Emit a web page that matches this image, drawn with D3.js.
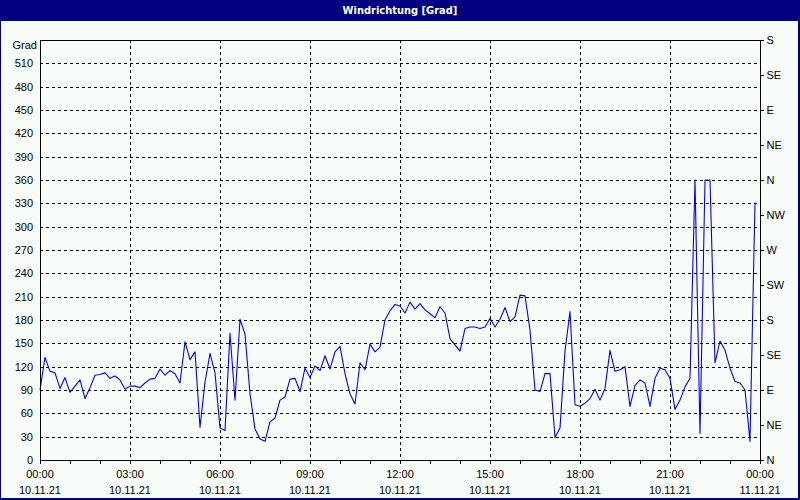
<!DOCTYPE html>
<html>
<head>
<meta charset="utf-8">
<script src="https://cdn.jsdelivr.net/npm/d3@7"></script>
<style>
  html, body { margin: 0; padding: 0; background: #fff; }
  svg { display: block; }
  text { font-family: "Liberation Sans", Arial, sans-serif; }
</style>
</head>
<body>
<svg id="chart" width="800" height="500"></svg>
<script>
// ---------- data ----------
const chartTitle = "Windrichtung [Grad]";
const unitLabel = "Grad";
const startTime = "2021-11-10T00:00:00";
const endTime = "2021-11-11T00:00:00";
const sampleMinutes = 10;
// wind direction in degrees, one value every 10 minutes from 00:00 to 23:50
const windDir = [
  90, 132, 114, 112, 92, 106, 87, 95, 103, 79, 93, 109,
  110, 112, 105, 108, 103, 91, 95, 95, 93, 99, 104, 105,
  117, 109, 115, 111, 99, 152, 129, 139, 42, 100, 137, 112,
  41, 38, 163, 77, 181, 162, 85, 40, 27, 24, 49, 54,
  77, 81, 104, 105, 88, 118, 106, 121, 115, 134, 117, 139,
  146, 111, 85, 72, 125, 116, 149, 139, 145, 180, 192, 200,
  198, 189, 203, 194, 201, 193, 188, 183, 197, 189, 156, 148,
  140, 169, 171, 171, 169, 171, 182, 171, 181, 196, 178, 184,
  212, 211, 167, 90, 88, 111, 111, 29, 41, 140, 191, 71,
  69, 73, 79, 91, 77, 92, 141, 114, 116, 120, 69, 96,
  103, 99, 69, 105, 118, 116, 105, 65, 77, 94, 105, 360,
  34, 360, 360, 125, 153, 141, 118, 101, 99, 90, 24, 331
];
const leftTicks = [0, 30, 60, 90, 120, 150, 180, 210, 240, 270, 300, 330, 360, 390, 420, 450, 480, 510];
const compassTicks = [0, 45, 90, 135, 180, 225, 270, 315, 360, 405, 450, 495, 540];
const compassLabels = ["N", "NE", "E", "SE", "S", "SW", "W", "NW", "N", "NE", "E", "SE", "S"];
const timeLabels = ["00:00", "03:00", "06:00", "09:00", "12:00", "15:00", "18:00", "21:00", "00:00"];
const dateLabels = ["10.11.21", "10.11.21", "10.11.21", "10.11.21", "10.11.21", "10.11.21", "10.11.21", "10.11.21", "11.11.21"];

// ---------- layout ----------
const W = 800, H = 500;
const plot = { left: 40, right: 760, top: 40, bottom: 460 };
const navy = "#000080";

const svg = d3.select("#chart");

// window frame
svg.append("rect").attr("x", 0).attr("y", 0).attr("width", W).attr("height", H).attr("fill", navy);
svg.append("rect").attr("x", 1).attr("y", 21).attr("width", W - 3).attr("height", H - 23).attr("fill", "#F8FCF8");
svg.append("text")
  .attr("x", W / 2).attr("y", 14)
  .attr("text-anchor", "middle")
  .attr("fill", "#fff")
  .attr("font-size", "11px")
  .attr("font-weight", "bold")
  .style("font-family", "'DejaVu Sans Condensed', 'Liberation Sans Narrow', 'Liberation Sans', sans-serif")
  .text(chartTitle);

const t0 = new Date(startTime), t1 = new Date(endTime);
const x = d3.scaleTime().domain([t0, t1]).range([plot.left, plot.right]);
const y = d3.scaleLinear().domain([0, 540]).range([plot.bottom, plot.top]);

const data = windDir.map((v, i) => ({ t: new Date(t0.getTime() + i * sampleMinutes * 60000), v }));

// grid
const grid = svg.append("g").attr("stroke", "#000").attr("stroke-width", 1)
  .attr("stroke-dasharray", "3,3").attr("shape-rendering", "crispEdges");
grid.selectAll("line.h").data(leftTicks.filter(d => d > 0)).join("line")
  .attr("x1", plot.left).attr("x2", plot.right)
  .attr("y1", d => Math.round(y(d)) + 0.5).attr("y2", d => Math.round(y(d)) + 0.5);
const gridTimes = d3.range(1, 8).map(k => new Date(t0.getTime() + k * 3 * 3600000));
grid.selectAll("line.v").data(gridTimes).join("line")
  .attr("y1", plot.top).attr("y2", plot.bottom)
  .attr("x1", d => Math.round(x(d)) + 0.5).attr("x2", d => Math.round(x(d)) + 0.5);

// data line
const line = d3.line().x(d => x(d.t)).y(d => y(d.v));
svg.append("path").datum(data)
  .attr("d", line)
  .attr("fill", "none")
  .attr("stroke", "#0000FF")
  .attr("stroke-width", 1.1)
  .attr("stroke-linejoin", "round");

// plot frame
svg.append("rect")
  .attr("x", plot.left + 0.5).attr("y", plot.top + 0.5)
  .attr("width", plot.right - plot.left).attr("height", plot.bottom - plot.top)
  .attr("fill", "none").attr("stroke", "#000").attr("shape-rendering", "crispEdges");

// left axis
const yAxis = d3.axisLeft(y).tickValues(leftTicks).tickSize(0).tickPadding(7).tickFormat(d3.format("d"));
const gy = svg.append("g").attr("transform", `translate(${plot.left},0)`).call(yAxis);
gy.select(".domain").remove();
gy.selectAll("text").attr("font-size", "11px").attr("fill", "#000").style("font-family", "'Liberation Sans', Arial, sans-serif");

svg.append("text").attr("x", 37).attr("y", 49).attr("text-anchor", "end")
  .attr("font-size", "11px").attr("fill", "#000").text(unitLabel);

// right axis
const yAxisR = d3.axisRight(y).tickValues(compassTicks).tickSize(3).tickPadding(3)
  .tickFormat((d, i) => compassLabels[i]);
const gr = svg.append("g").attr("transform", `translate(${plot.right + 0.5},0)`).call(yAxisR);
gr.select(".domain").remove();
gr.selectAll("line").attr("stroke", "#000").attr("shape-rendering", "crispEdges");
gr.selectAll("text").attr("font-size", "11px").attr("fill", "#000").style("font-family", "'Liberation Sans', Arial, sans-serif");

// bottom axis
const hourTicks = d3.range(0, 25).map(h => new Date(t0.getTime() + h * 3600000));
const xAxis = d3.axisBottom(x).tickValues(hourTicks).tickSize(3).tickFormat("");
const gx = svg.append("g").attr("transform", `translate(0,${plot.bottom + 0.5})`).call(xAxis);
gx.select(".domain").remove();
gx.selectAll("line").attr("stroke", "#000").attr("shape-rendering", "crispEdges");

const labelTimes = d3.range(0, 9).map(k => new Date(t0.getTime() + k * 3 * 3600000));
const lab = svg.append("g").attr("font-size", "11px").attr("fill", "#000").attr("text-anchor", "middle");
lab.selectAll("text.t").data(labelTimes).join("text")
  .attr("x", d => x(d)).attr("y", 478)
  .text((d, i) => timeLabels[i]);
lab.selectAll("text.d").data(labelTimes).join("text")
  .attr("x", d => x(d)).attr("y", 494)
  .text((d, i) => dateLabels[i]);
</script>
</body>
</html>
